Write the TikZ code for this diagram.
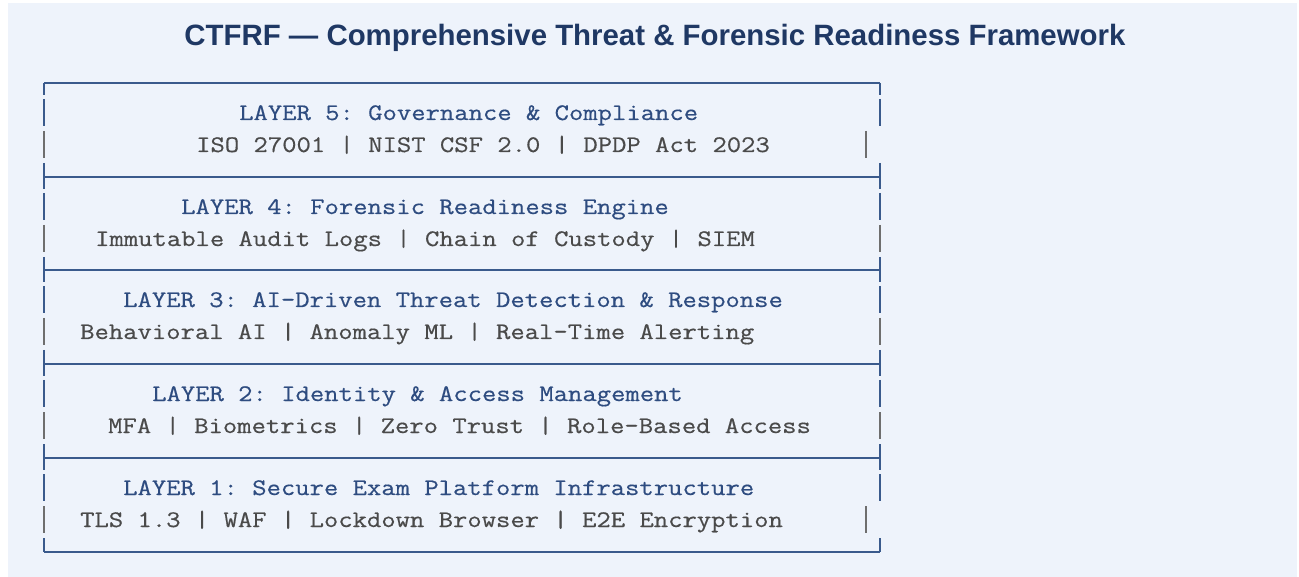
\documentclass[tikz,border=0pt]{standalone}
\usepackage{fontspec}
\usepackage{xcolor}
\usepackage{tikz}
\setmainfont{Liberation Sans}
\setmonofont{Latin Modern Mono}[FakeStretch=1.175,FakeBold=0.5]

\definecolor{panelbg}{HTML}{EEF3FB}
\definecolor{titleblue}{HTML}{1F3864}
\definecolor{layerblue}{HTML}{2E4C80}
\definecolor{ruleblue}{HTML}{3A5A8C}
\definecolor{textgray}{HTML}{4A4A4A}
\definecolor{bargray}{HTML}{6E6E6E}

\tikzstyle{heading}=[anchor=base west,inner sep=0pt,font=\ttfamily\fontsize{23.7}{28}\selectfont,text=layerblue]
\tikzstyle{detail}=[heading,text=textgray]
\tikzstyle{rule}=[draw=ruleblue,line width=2.2pt]
\tikzstyle{bar}=[draw=bargray,line width=2.6pt]

\begin{document}
\begin{tikzpicture}[x=1pt,y=-1pt]
					\useasboundingbox (0,0) rectangle (1299,577);
					\fill[panelbg] (8,3) rectangle (1297,577);
					\node [font=\bfseries\fontsize{29.4}{35}\selectfont,text=titleblue] (title) at (655,38)
					{CTFRF — Comprehensive Threat \& Forensic Readiness Framework};
					% horizontal rules of the layer stack
					\foreach \r in {83,177,270,364,458,552}
					\draw[rule] (44,\r) -- (880,\r);
					% side bars of each layer: top rule, right x of the detail bar
					\foreach \r/\dx in {83/866,177/880,270/880,364/880,458/866} {
						\draw[rule] (44,\r) -- (44,\r+12) (880,\r) -- (880,\r+12);
						\draw[rule] (44,\r+16) -- (44,\r+43) (880,\r+16) -- (880,\r+43);
						\draw[bar] (44,\r+48) -- (44,\r+75) (\dx,\r+48) -- (\dx,\r+75);
						\draw[rule] (44,\r+80) -- (44,\r+94) (880,\r+80) -- (880,\r+94);
					}
					\node [heading] (h5) at (239,120) {LAYER 5: Governance \& Compliance};
					\node [detail] (d5) at (196,152) {ISO 27001 | NIST CSF 2.0 | DPDP Act 2023};
					\node [heading] (h4) at (181,214) {LAYER 4: Forensic Readiness Engine};
					\node [detail] (d4) at (95,246) {Immutable Audit Logs | Chain of Custody | SIEM};
					\node [heading] (h3) at (123,307) {LAYER 3: AI-Driven Threat Detection \& Response};
					\node [detail] (d3) at (80,339) {Behavioral AI | Anomaly ML | Real-Time Alerting};
					\node [heading] (h2) at (152,401) {LAYER 2: Identity \& Access Management};
					\node [detail] (d2) at (108,433) {MFA | Biometrics | Zero Trust | Role-Based Access};
					\node [heading] (h1) at (123,495) {LAYER 1: Secure Exam Platform Infrastructure};
					\node [detail] (d1) at (80,527) {TLS 1.3 | WAF | Lockdown Browser | E2E Encryption};
					\end{tikzpicture}
\end{document}
